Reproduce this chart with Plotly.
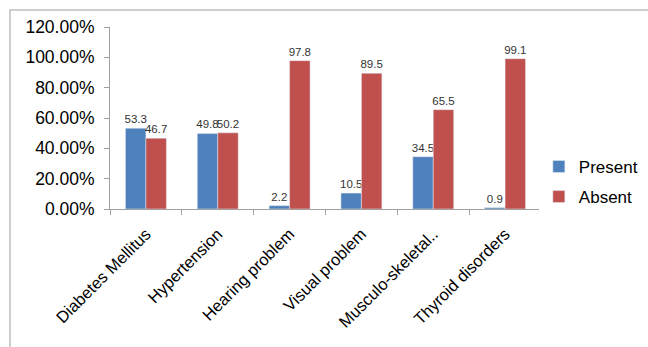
import plotly.graph_objects as go

categories = ["Diabetes Mellitus", "Hypertension", "Hearing problem", "Visual problem",
              "Musculo-skeletal..", "Thyroid disorders"]
present = [53.3, 49.8, 2.2, 10.5, 34.5, 0.9]
absent = [46.7, 50.2, 97.8, 89.5, 65.5, 99.1]
y_ticks = [0, 0.2, 0.4, 0.6, 0.8, 1.0, 1.2]

FONT = "Liberation Sans, Arial, sans-serif"

fig = go.Figure()
fig.add_trace(go.Bar(name="Present", x=categories, y=[v / 100 for v in present],
                     text=[str(v) for v in present], textposition="outside",
                     marker_color="#4F81BD", textfont=dict(size=11.5, color="#333333"),
                     cliponaxis=False, constraintext="none", legendgroup="p"))
fig.add_trace(go.Bar(name="Absent", x=categories, y=[v / 100 for v in absent],
                     text=[str(v) for v in absent], textposition="outside",
                     marker_color="#C0504D", textfont=dict(size=11.5, color="#333333"),
                     cliponaxis=False, constraintext="none", legendgroup="a"))

fig.update_layout(
    width=648, height=347,
    margin=dict(l=110, r=107, t=27, b=138, autoexpand=False),
    barmode="group", bargap=0.43, bargroupgap=0,
    paper_bgcolor="white", plot_bgcolor="white",
    font=dict(family=FONT, color="#000000"),
    legend=dict(x=0.995, y=0.33, xanchor="left", yanchor="top",
                font=dict(size=17, family=FONT), itemwidth=30,
                tracegroupgap=5),
    showlegend=True,
)
fig.update_yaxes(range=[0, 1.2], tickvals=y_ticks, tickformat=".2%",
                 showgrid=False, showline=True, linecolor="#A0A0A0", linewidth=1,
                 ticks="outside", ticklen=5, tickcolor="#A0A0A0", ticklabelstandoff=6,
                 tickfont=dict(size=17.5, family=FONT), zeroline=False)
fig.update_xaxes(showgrid=False, showline=True, linecolor="#A0A0A0", linewidth=1,
                 ticks="outside", ticklen=5, tickcolor="#A0A0A0", tickson="boundaries",
                 tickangle=-45, ticklabelstandoff=8,
                 tickfont=dict(size=16.5, family=FONT))

fig.add_shape(type="rect", xref="paper", yref="paper",
              x0=-100 / 431, x1=1.5, y0=-1.0, y1=(209 - 10) / 182,
              line=dict(color="#BFBFBF", width=1.5), fillcolor="rgba(0,0,0,0)", layer="below")

fig.write_html("out.html")
